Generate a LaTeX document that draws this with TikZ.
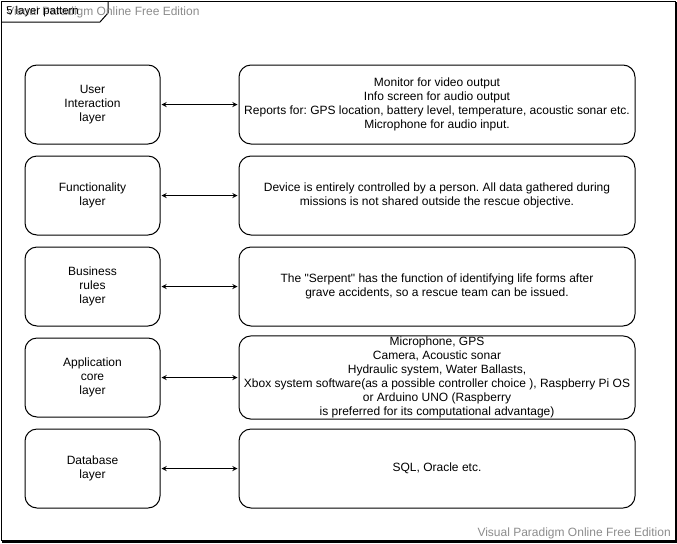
\documentclass[tikz,border=0pt]{standalone}
\usepackage{fontspec}
\setmainfont{Liberation Sans}
\usepackage{tikz}
\usetikzlibrary{shapes,arrows}
\frenchspacing

\begin{document}
\begin{tikzpicture}[x=0.75pt,y=0.75pt,yscale=-1,xscale=1,
    layerbox/.style={draw, line width=0.75pt, rounded corners=9pt, align=center, minimum width=101.25pt, minimum height=59.25pt, inner sep=0.75pt, font=\fontsize{9}{10.5}\selectfont},
    descbox/.style={layerbox, minimum width=297pt},
    link/.style={stealth-stealth, line width=0.75pt, shorten <=0.75pt, shorten >=0.75pt}]
    \useasboundingbox (0,0) rectangle (677,543);

    %Shape: Frame
    \draw [line width=0.75pt] (1.5,1.5) rectangle (675,540.5) ;
    \draw [line width=1.5pt] (676,2) -- (676,542) -- (2,542) ;
    %Shape: Frame tab
    \draw [line width=0.75pt] (1.5,22) -- (100,22) -- (108,13) -- (108,1.5) ;

    % Text Node
    \node [anchor=west, inner sep=0.75pt, text=black!45, font=\fontsize{9}{10.5}\selectfont] (watermarktop) at (5,12) {Visual Paradigm Online Free Edition};
    % Text Node
    \node [anchor=west, inner sep=0.75pt, font=\fontsize{8.5}{10}\selectfont] (title) at (5,12) {5 layer pattern};
    % Text Node
    \node [anchor=east, inner sep=0.75pt, text=black!45, font=\fontsize{9}{10.5}\selectfont] (watermark) at (672,533) {Visual Paradigm Online Free Edition};

    %Layer boxes
    \node [layerbox] (user) at (92.5,104.5) {User\\Interaction\\layer};
    \node [layerbox] (func) at (92.5,195.5) {Functionality\\layer};
    \node [layerbox] (business) at (92.5,286.5) {Business\\rules\\layer};
    \node [layerbox] (core) at (92.5,377.5) {Application\\core\\layer};
    \node [layerbox] (data) at (92.5,468.5) {Database\\layer};

    %Description boxes
    \node [descbox] (userdesc) at (437,104.5) {Monitor for video output\\Info screen for audio output\\Reports for: GPS location, battery level, temperature, acoustic sonar etc.\\Microphone for audio input.};
    \node [descbox] (funcdesc) at (437,195.5) {Device is entirely controlled by a person. All data gathered during\\missions is not shared outside the rescue objective.};
    \node [descbox] (businessdesc) at (437,286.5) {The \textquotedbl Serpent\textquotedbl{} has the function of identifying life forms after\\grave accidents, so a rescue team can be issued.};
    \node [descbox] (coredesc) at (437,377.5) {Microphone, GPS\\Camera, Acoustic sonar\\Hydraulic system, Water Ballasts,\\Xbox system software(as a possible controller choice ), Raspberry Pi OS\\or Arduino UNO (Raspberry\\is preferred for its computational advantage)};
    \node [descbox] (datadesc) at (437,468.5) {SQL, Oracle etc.};

    %Straight Lines
    \draw [link] (user) -- (userdesc) ;
    \draw [link] (func) -- (funcdesc) ;
    \draw [link] (business) -- (businessdesc) ;
    \draw [link] (core) -- (coredesc) ;
    \draw [link] (data) -- (datadesc) ;

\end{tikzpicture}
\end{document}
